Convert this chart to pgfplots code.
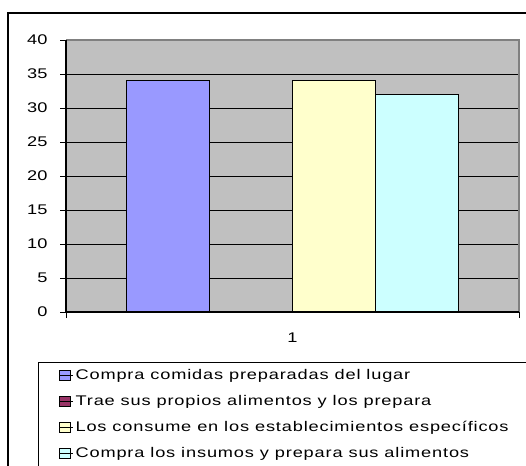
\documentclass[border=0pt]{standalone}
\usepackage{pgfplots}
\pgfplotsset{compat=1.18}
\usepackage{fontspec}
\setmainfont{Liberation Sans}[FakeStretch=1.3]
\newfontfamily\legfont{Liberation Sans}[FakeStretch=1.3, LetterSpace=6]
\definecolor{cblue}{HTML}{9999FF}
\definecolor{cred}{HTML}{993366}
\definecolor{cyellow}{HTML}{FFFFCC}
\definecolor{ccyan}{HTML}{CCFFFF}
\definecolor{cgray}{HTML}{C0C0C0}
\definecolor{cframe}{HTML}{808080}
\begin{document}
\begin{tikzpicture}[x=1pt,y=1pt]
\path[use as bounding box] (0pt,0pt) rectangle (526pt,465pt);
\clip (0pt,0pt) rectangle (526pt,465pt);
\fill[white] (0pt,0pt) rectangle (526pt,465pt);
\draw[line width=1.5pt] (8pt,-20pt) -- (8pt,452pt) -- (560pt,452pt);
\draw[line width=1pt] (38pt,-20pt) -- (38pt,102pt) -- (560pt,102pt);
\begin{axis}[
  at={(66pt,153pt)}, anchor=south west,
  scale only axis, width=453pt, height=272pt,
  font=\fontsize{14}{16}\selectfont,
  /pgf/number format/assume math mode=true,
  axis background/.style={fill=cgray},
  xmin=-0.5, xmax=0.5, ymin=0, ymax=40,
  ytick={0,5,...,40},
  yticklabel style={xshift=-9pt},
  xtick={-0.5,0.5}, xticklabels={},
  extra x ticks={0}, extra x tick labels={1},
  extra x tick style={major tick length=0pt, xticklabel style={yshift=-17pt}},
  tick align=outside, xtick pos=bottom, ytick pos=left,
  major tick length=6pt,
  tick style={black, line width=0.8pt},
  ymajorgrids, grid style={black, line width=0.9pt},
  axis line style={draw=none},
  ybar=0pt, bar width=0.1832,
  clip=false,
  legend cell align=left,
  legend style={draw=none, fill=none, at={(-0.0155,-0.203)}, anchor=north west,
     inner sep=0pt, row sep=10.4pt, font=\legfont\fontsize{14}{16}\selectfont},
  legend image code/.code={\draw[#1, draw=black, line width=0.6pt] (0pt,-5pt) rectangle (10.5pt,5pt); \path (0pt,0pt) -- (13.5pt,0pt);},
]
\addplot[fill=cblue, draw=black, line width=0.9pt, bar shift=-0.2748] coordinates {(0,34)};
\addplot[fill=cred, draw=black, line width=0.9pt, bar shift=-0.0916] coordinates {(0,0)};
\addplot[fill=cyellow, draw=black, line width=0.9pt, bar shift=0.0916] coordinates {(0,34)};
\addplot[fill=ccyan, draw=black, line width=0.9pt, bar shift=0.2748] coordinates {(0,32)};
\legend{Compra comidas preparadas del lugar, Trae sus propios alimentos y los prepara, Los consume en los establecimientos específicos, Compra los insumos y prepara sus alimentos}
\draw[cframe, line width=1.2pt] (rel axis cs:0,1) -- (rel axis cs:1,1) -- (rel axis cs:1,0);
\draw[black, line width=1.2pt] (rel axis cs:0,1) -- (rel axis cs:0,0) -- (rel axis cs:1,0);
\end{axis}
\end{tikzpicture}
\end{document}
